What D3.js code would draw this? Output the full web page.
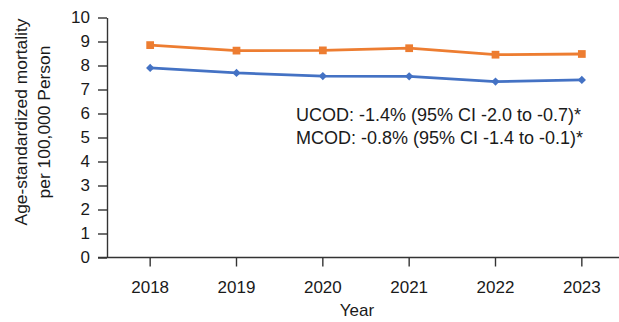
<!DOCTYPE html>
<html>
<head>
<meta charset="utf-8">
<script src="https://cdn.jsdelivr.net/npm/d3@7"></script>
<style>
  html, body { margin: 0; padding: 0; background: #fff; }
  svg { display: block; }
  text { font-family: "Liberation Sans", Arial, Helvetica, sans-serif; fill: #1a1a1a; }
</style>
</head>
<body>
<svg id="chart" width="619" height="322"></svg>
<script>
// Years on the x axis
const years = ["2018", "2019", "2020", "2021", "2022", "2023"];
// Age-standardized mortality per 100,000 person
const mcodValues = [8.85, 8.62, 8.63, 8.72, 8.45, 8.48];
const ucodValues = [7.90, 7.69, 7.56, 7.55, 7.33, 7.40];
// Y-axis ticks
const yTicks = [0, 1, 2, 3, 4, 5, 6, 7, 8, 9, 10];
// Trend annotations
const notes = [
  "UCOD: -1.4% (95% CI -2.0 to -0.7)*",
  "MCOD: -0.8% (95% CI -1.4 to -0.1)*"
];

const svg = d3.select("#chart");
const axisColor = "#333";
const font = "'Liberation Sans', Arial, sans-serif";

const x = d3.scaleBand().domain(years).range([107, 625]);
const y = d3.scaleLinear().domain([0, 10]).range([257.5, 17.5]);

// Y axis
const yAxis = svg.append("g")
  .attr("transform", "translate(107,0)")
  .call(d3.axisLeft(y).tickValues(yTicks).tickSize(9).tickPadding(8).tickSizeOuter(0));
yAxis.select(".domain").attr("stroke", axisColor).attr("stroke-width", 1.4);
yAxis.selectAll(".tick line").attr("stroke", axisColor).attr("stroke-width", 1.4);
yAxis.selectAll(".tick text").attr("font-size", 17).attr("fill", "#1a1a1a")
  .attr("font-family", font);

// X axis (extends left to meet the zero tick)
const xAxis = svg.append("g")
  .attr("transform", "translate(0,257.5)")
  .call(d3.axisBottom(x).tickSize(9).tickPadding(14).tickSizeOuter(0));
xAxis.select(".domain").remove();
xAxis.append("line")
  .attr("x1", 98).attr("x2", 625)
  .attr("stroke", axisColor).attr("stroke-width", 1.4);
xAxis.selectAll(".tick line").attr("stroke", axisColor).attr("stroke-width", 1.4);
xAxis.selectAll(".tick text").attr("font-size", 17).attr("fill", "#1a1a1a")
  .attr("font-family", font);

const cx = d => x(d) + x.bandwidth() / 2;

const line = d3.line().x((d, i) => cx(years[i])).y(d => y(d));

// MCOD series (orange, squares)
svg.append("path").datum(mcodValues)
  .attr("d", line).attr("fill", "none")
  .attr("stroke", "#ED7D31").attr("stroke-width", 2.8);
svg.selectAll(".mcod").data(mcodValues).join("path")
  .attr("class", "mcod")
  .attr("d", d3.symbol(d3.symbolSquare, 60))
  .attr("transform", (d, i) => `translate(${cx(years[i])},${y(d)})`)
  .attr("fill", "#ED7D31");

// UCOD series (blue, diamonds)
svg.append("path").datum(ucodValues)
  .attr("d", line).attr("fill", "none")
  .attr("stroke", "#4472C4").attr("stroke-width", 2.8);
svg.selectAll(".ucod").data(ucodValues).join("path")
  .attr("class", "ucod")
  .attr("d", d3.symbol(d3.symbolSquare, 34))
  .attr("transform", (d, i) => `translate(${cx(years[i])},${y(d)}) rotate(45)`)
  .attr("fill", "#4472C4");

// Annotations
svg.selectAll(".note").data(notes).join("text")
  .attr("class", "note")
  .attr("x", 296)
  .attr("y", (d, i) => 121 + i * 22.5)
  .attr("font-size", 18)
  .text(d => d);

// Axis titles
const yTitle = svg.append("text")
  .attr("transform", "translate(0,122) rotate(-90)")
  .attr("text-anchor", "middle")
  .attr("font-size", 17.4);
yTitle.append("tspan").attr("x", 0).attr("y", 27).text("Age-standardized mortality");
yTitle.append("tspan").attr("x", 0).attr("y", 49.5).text("per 100,000 Person");

svg.append("text")
  .attr("x", 357).attr("y", 316)
  .attr("text-anchor", "middle")
  .attr("font-size", 17)
  .text("Year");
</script>
</body>
</html>
